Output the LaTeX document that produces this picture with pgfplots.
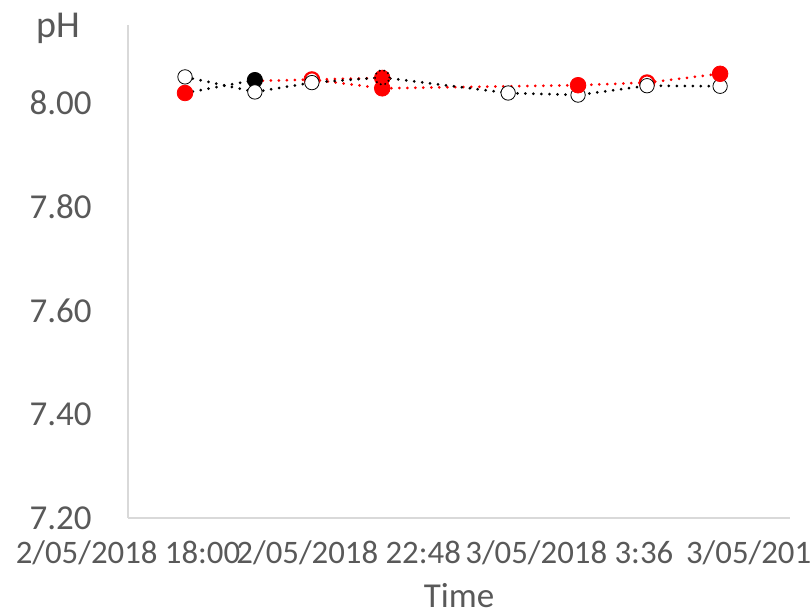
\documentclass[border=0pt]{standalone}
\usepackage{pgfplots}
\pgfplotsset{compat=1.18}
\usepackage{fontspec}
\setmainfont{Carlito}
\definecolor{txtgray}{HTML}{595959}
\definecolor{axgray}{HTML}{D9D9D9}
\definecolor{xred}{HTML}{FF0000}
\begin{document}
\begin{tikzpicture}
\begin{axis}[
  scale only axis,
  width=331pt, height=246.5pt,
  xmin=0, xmax=14.4, ymin=7.2, ymax=8.15,
  axis lines=left, axis line style={-, draw=axgray, line width=0.8pt},
  major tick length=0pt,
  xtick={0,4.8,9.6,14.4},
  xticklabels={2/05/2018 18:00, 2/05/2018 22:48, 3/05/2018 3:36, 3/05/2018 8:24},
  ytick={7.2,7.4,7.6,7.8,8.0},
  /pgf/number format/.cd, fixed, fixed zerofill, precision=2, assume math mode=true,
  /pgfplots/.cd,
  tick label style={text=txtgray, inner sep=0pt},
  yticklabel style={anchor=east, xshift=-18pt, font=\fontsize{17.5}{21}\selectfont},
  xticklabel style={anchor=north, yshift=-11pt, font=\fontsize{16.4}{20}\selectfont},
  xlabel={Time}, ylabel={pH},
  every axis x label/.style={at={(rel axis cs:0.5,0)}, anchor=base, yshift=-45pt, font=\fontsize{17.5}{21}\selectfont, text=txtgray},
  every axis y label/.style={at={(rel axis cs:0,1)}, anchor=base, xshift=-35pt, yshift=-6pt, font=\fontsize{19}{23}\selectfont, text=txtgray},
  clip=false,
  dotline/.style={line width=1.5pt, dash pattern=on 0pt off 4pt, line cap=round},
  dotmark/.style={mark options={solid, line width=1.1pt, dash pattern=on 0pt off 2.3pt, line cap=round}},
]
\coordinate (LL) at (rel axis cs:0,0);
% black line crossing segment
\addplot[black, dotline, no markers] coordinates {(1.24,8.019) (2.76,8.044)};
% red upper branch
\addplot[xred, dotline, no markers] coordinates {(2.76,8.042) (4.00,8.045) (5.53,8.048)};
% red main series
\addplot[xred, dotline, no markers] coordinates {(4.00,8.045) (5.53,8.028) (9.79,8.034) (11.29,8.039) (12.88,8.056)};
% black main series
\addplot[black, dotline, no markers] coordinates {(1.24,8.050) (2.76,8.021) (4.00,8.039) (5.53,8.049) (8.27,8.019) (9.79,8.015) (11.29,8.033) (12.88,8.032)};
% black filled marker
\addplot[only marks, mark=*, mark size=3.8pt, black, mark options={fill=black}] coordinates {(2.76,8.044)};
% red open markers
\addplot[only marks, mark=*, mark size=3.6pt, xred, mark options={fill=white, line width=1.1pt}] coordinates {(4.00,8.045) (11.29,8.039)};
% black open dotted markers
\addplot[only marks, mark=*, mark size=3.6pt, black, dotmark, mark options={fill=white}] coordinates {(1.24,8.050) (2.76,8.021) (4.00,8.039) (8.27,8.019) (9.79,8.015) (11.29,8.033) (12.88,8.032)};
% red filled markers
\addplot[only marks, mark=*, mark size=3.9pt, xred, mark options={fill=xred}] coordinates {(1.24,8.019) (5.53,8.048) (5.53,8.028) (9.79,8.034) (12.88,8.056)};
% black open dotted marker without fill
\addplot[only marks, mark=o, mark size=3.6pt, black, dotmark] coordinates {(5.53,8.049)};
\end{axis}
\pgfresetboundingbox
\path[use as bounding box] ([xshift=-64pt,yshift=-48pt]LL) rectangle ++(405.5pt,307pt);
\end{tikzpicture}
\end{document}
